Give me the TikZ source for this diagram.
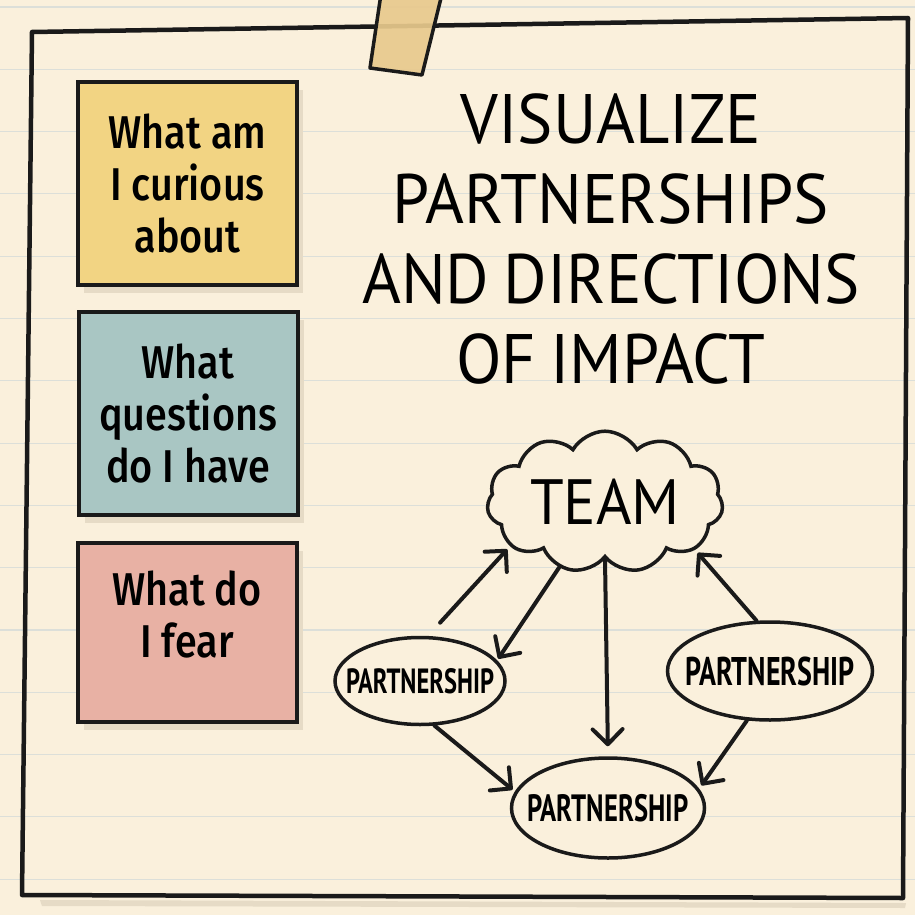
\documentclass[tikz,border=0pt]{standalone}
\usepackage{fontspec}
\setmainfont{Fira Sans}
\newfontfamily\titlefont[FakeStretch=0.95,WordSpace=0.8]{PT Sans}
\newfontfamily\notefont[FakeStretch=0.86,BoldFont={Fira Sans Medium}]{Fira Sans}
\newfontfamily\bubblefont[FakeStretch=0.7]{PT Sans}
\usepackage{tikz}
\usetikzlibrary{arrows.meta,shapes.geometric,shapes.symbols,shadows}
\definecolor{paper}{HTML}{FAF0DC}
\definecolor{ink}{HTML}{1A1A1A}
\definecolor{ruled}{HTML}{DCDFD9}
\definecolor{shadowtan}{HTML}{E6DBC6}
\definecolor{tapetan}{HTML}{E8C98D}
\definecolor{noteyellow}{HTML}{F2D483}
\definecolor{noteteal}{HTML}{A9C6C3}
\definecolor{notepink}{HTML}{E8B1A4}
\tikzset{
  ruleline/.style={draw=ruled,line width=1.1pt},
  frameline/.style={draw=ink,line width=4.5pt,line join=round},
  stickynote/.style={draw=ink,line width=4pt,
                     minimum width=219pt,minimum height=203pt,
                     inner sep=0pt,align=center,
                     font=\notefont\bfseries\fontsize{46}{52}\selectfont,
                     drop shadow={shadow xshift=6pt,shadow yshift=-8pt,fill=shadowtan,opacity=1}},
  titletext/.style={align=center,inner sep=0pt,
                    font=\titlefont\fontsize{70}{80}\selectfont},
  teamcloud/.style={cloud,cloud puffs=11,cloud puff arc=120,aspect=1.9,
                    draw=ink,fill=paper,line width=3.5pt,inner sep=0pt,
                    minimum width=236pt,minimum height=120pt,
                    font=\titlefont\fontsize{64}{64}\selectfont},
  partnerbubble/.style={ellipse,draw=ink,fill=paper,line width=3.5pt,
                        inner xsep=-30pt,inner ysep=0pt},
  flowarr/.style={-{Straight Barb[length=15pt,width=30pt,round]},
                  line width=4pt,color=ink,line cap=round}
}
\begin{document}
\begin{tikzpicture}[x=1pt,y=-1pt]
  \useasboundingbox (0,0) rectangle (915,915);
  \fill[paper] (0,0) rectangle (915,915);
  \fill[shadowtan] (40,900) -- (906,903) -- (905,908) -- (42,906) -- cycle;
  \foreach \k in {0,...,14} {
    \draw[ruleline] (0,{7+62.3*\k}) -- (915,{7+62.3*\k});
  }
  \draw[frameline] (32,32) -- (908,18) -- (903,898) -- (22,895) -- cycle;
  \filldraw[fill=tapetan,draw=ink,line width=3.5pt,line join=round,fill opacity=0.92]
    (381,-6) -- (370,68) -- (422,75) -- (442,-6);

  \node[stickynote,fill=noteyellow] (curious) at (187.5,183.5) {What am\\I curious\\about};
  \node[stickynote,fill=noteteal] (questions) at (188,413.5) {What\\questions\\do I have};
  \node[stickynote,fill=notepink,minimum height=179pt] (fear) at (187,632.5) {What do\\I fear\\[-16pt]};

  \node[titletext,anchor=north] (title) at (611,93) {VISUALIZE\\PARTNERSHIPS\\AND DIRECTIONS\\OF IMPACT};

  \node[teamcloud] (team) at (605,502) {TEAM};
  \node[partnerbubble,minimum width=170pt,minimum height=87pt,font=\bubblefont\bfseries\fontsize{35}{35}\selectfont] (pleft) at (420,681) {PARTNERSHIP};
  \node[partnerbubble,minimum width=205pt,minimum height=98pt,font=\bubblefont\bfseries\fontsize{40}{40}\selectfont] (pright) at (770,671) {PARTNERSHIP};
  \node[partnerbubble,minimum width=193pt,minimum height=100pt,font=\bubblefont\bfseries\fontsize{38}{38}\selectfont] (pbottom) at (608,808) {PARTNERSHIP};

  \draw[flowarr,shorten <=18pt,shorten >=4pt] (pleft.80) -- (team.205);
  \draw[flowarr,shorten >=2pt] (team.235) -- (pleft.15);
  \draw[flowarr,shorten >=10pt] (team.south) -- (pbottom.north);
  \draw[flowarr,shorten >=4pt] (pright.105) -- (team.332);
  \draw[flowarr,shorten >=3pt] (pleft.288) -- (pbottom.170);
  \draw[flowarr,shorten >=4pt] (pright.245) -- (pbottom.12);
\end{tikzpicture}
\end{document}
